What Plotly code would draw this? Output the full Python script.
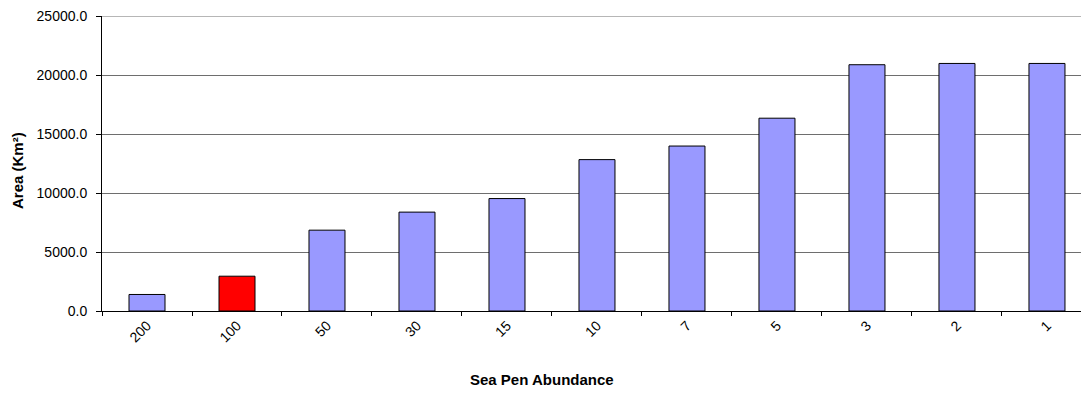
import plotly.graph_objects as go

categories = ["200", "100", "50", "30", "15", "10", "7", "5", "3", "2", "1"]
area_km2 = [1400, 2950, 6850, 8380, 9530, 12830, 13980, 16340, 20870, 20980, 20980]
bar_colors = ["#9999FF", "#FF0000"] + ["#9999FF"] * 9
y_ticks = [0, 5000, 10000, 15000, 20000, 25000]
y_max = 25000

FONT = "Liberation Sans, Arial, sans-serif"
GRID = "#6e6e6e"

fig = go.Figure(
    go.Bar(
        x=categories,
        y=area_km2,
        width=0.4,
        marker=dict(color=bar_colors, line=dict(color="#000000", width=1)),
    )
)

# page body has an 8px default margin, so the figure is drawn 8px in from the corner
fig.update_layout(
    width=1081,
    height=386,
    margin=dict(l=94, r=0, t=8, b=83),
    paper_bgcolor="white",
    plot_bgcolor="white",
    showlegend=False,
    font=dict(family=FONT, color="#000000"),
    bargap=0.6,
)

fig.update_xaxes(
    type="category",
    range=[-0.5, 10.467],
    automargin=False,
    showline=True,
    linecolor="#000000",
    linewidth=1,
    ticks="outside",
    tickson="boundaries",
    ticklen=4,
    tickcolor="#000000",
    tickangle=-45,
    tickfont=dict(size=14, family=FONT, color="#000000"),
    showgrid=False,
)

fig.update_yaxes(
    range=[0, y_max],
    tickvals=y_ticks,
    tickformat=".1f",
    automargin=False,
    showline=True,
    linecolor="#000000",
    linewidth=1,
    ticks="outside",
    ticklen=5,
    tickcolor="#000000",
    ticklabelstandoff=6,
    ticklabeloverflow="allow",
    tickfont=dict(size=14, family=FONT, color="#000000"),
    showgrid=True,
    gridcolor=GRID,
    gridwidth=1,
    zeroline=False,
)

# top gridline (plotly drops the gridline lying on the plot edge)
fig.add_shape(
    type="line", xref="paper", yref="y",
    x0=0, x1=1, y0=y_max, y1=y_max,
    line=dict(color=GRID, width=1),
    layer="below",
)

PH = 386 - 8 - 83  # plot height in px
fig.add_annotation(
    text="<b>Sea Pen Abundance</b>",
    xref="paper", yref="paper",
    x=(542 - 102) / 987, y=(311 - 379.5) / PH,
    xanchor="center", yanchor="middle",
    showarrow=False,
    font=dict(size=15, family=FONT, color="#000000"),
)

fig.add_annotation(
    text="<b>Area (Km²)</b>",
    xref="paper", yref="paper",
    x=(18 - 102) / 987, y=(311 - 171) / PH,
    xanchor="center", yanchor="middle",
    textangle=-90,
    showarrow=False,
    font=dict(size=15, family=FONT, color="#000000"),
)

fig.write_html("out.html")
